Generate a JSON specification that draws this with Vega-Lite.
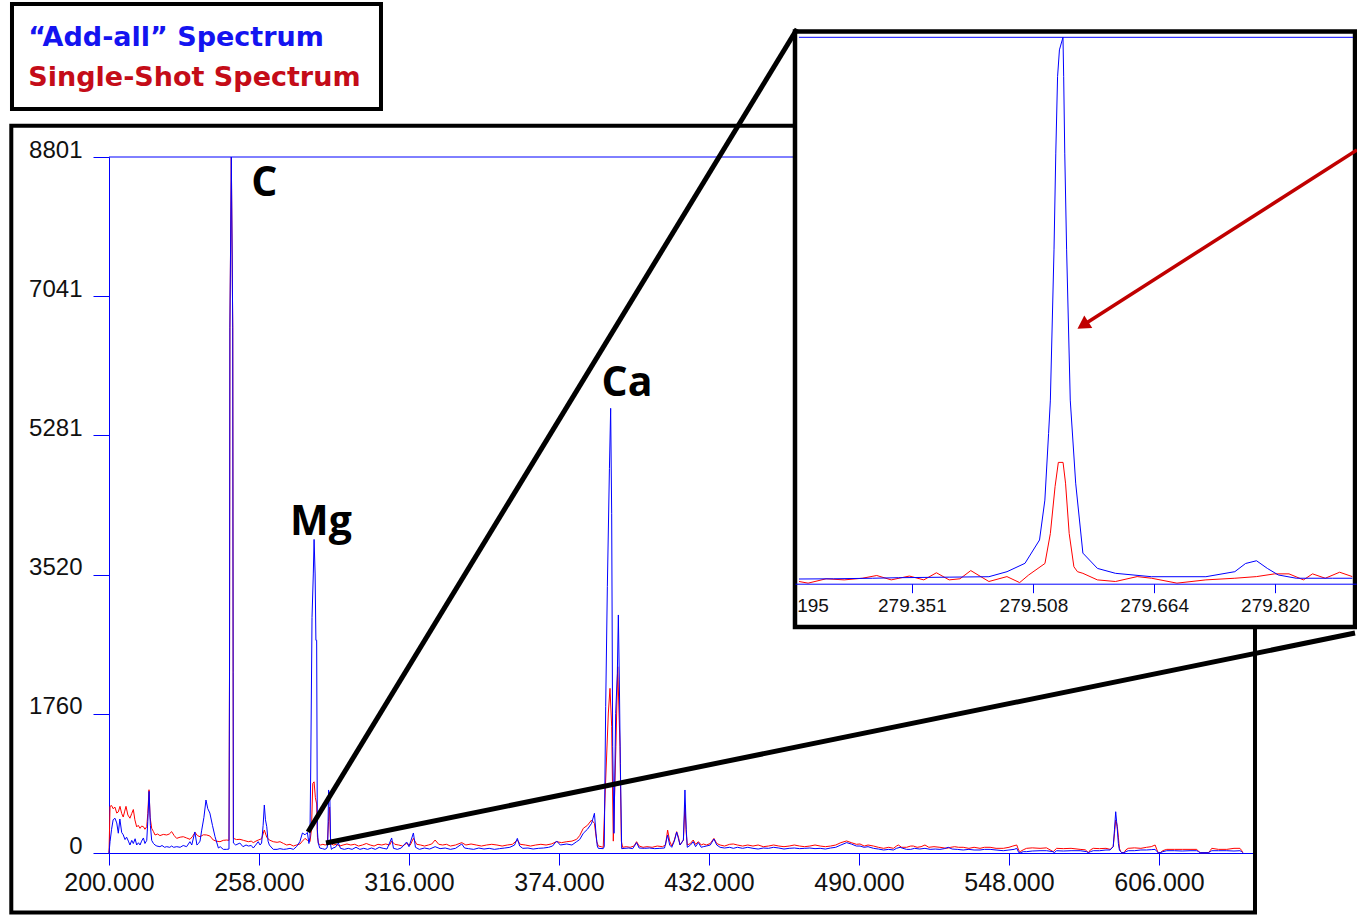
{
"$schema": "https://vega.github.io/schema/vega-lite/v6.json",
"width": 1144, "height": 696,
"autosize": {"type": "none"},
"padding": {"left": 109, "top": 157, "right": 104, "bottom": 63},
"background": "white",
"config": {"view": {"stroke": null}, "axis": {"labelFont": "Liberation Sans", "labelColor": "#111111", "grid": false}},
"datasets": {
"one": [{"k": 1}],
"blue": [{"wl":200.0,"v":0},{"wl":200.4,"v":143},{"wl":201.0,"v":300},{"wl":201.6,"v":420},{"wl":202.3,"v":440},{"wl":203.0,"v":380},{"wl":203.6,"v":250},{"wl":204.2,"v":430},{"wl":204.9,"v":260},{"wl":205.5,"v":230},{"wl":206.2,"v":170},{"wl":206.8,"v":200},{"wl":207.5,"v":150},{"wl":208.1,"v":101},{"wl":208.8,"v":160},{"wl":209.4,"v":120},{"wl":210.1,"v":180},{"wl":210.7,"v":101},{"wl":211.4,"v":130},{"wl":212.0,"v":101},{"wl":212.6,"v":150},{"wl":213.3,"v":190},{"wl":213.9,"v":120},{"wl":214.6,"v":160},{"wl":215.0,"v":400},{"wl":215.5,"v":780},{"wl":216.0,"v":350},{"wl":216.5,"v":160},{"wl":217.2,"v":120},{"wl":217.8,"v":101},{"wl":218.5,"v":88},{"wl":219.7,"v":80},{"wl":220.5,"v":95},{"wl":221.5,"v":72},{"wl":222.3,"v":80},{"wl":223.5,"v":72},{"wl":224.2,"v":88},{"wl":225.0,"v":72},{"wl":226.2,"v":80},{"wl":227.5,"v":72},{"wl":228.7,"v":95},{"wl":230.0,"v":80},{"wl":231.3,"v":143},{"wl":232.0,"v":101},{"wl":233.2,"v":266},{"wl":234.0,"v":101},{"wl":234.6,"v":120},{"wl":235.2,"v":150},{"wl":235.8,"v":280},{"wl":236.7,"v":450},{"wl":237.5,"v":670},{"wl":238.2,"v":560},{"wl":239.0,"v":505},{"wl":240.0,"v":350},{"wl":241.0,"v":206},{"wl":242.3,"v":63},{"wl":243.0,"v":80},{"wl":244.2,"v":46},{"wl":245.5,"v":46},{"wl":246.4,"v":50},{"wl":246.6,"v":2300},{"wl":246.75,"v":6640},{"wl":247.3,"v":8801},{"wl":247.85,"v":6640},{"wl":248.0,"v":2300},{"wl":248.1,"v":126},{"wl":249.0,"v":101},{"wl":250.6,"v":126},{"wl":251.8,"v":80},{"wl":253.0,"v":101},{"wl":253.9,"v":88},{"wl":255.0,"v":95},{"wl":255.8,"v":63},{"wl":256.7,"v":100},{"wl":257.7,"v":143},{"wl":258.4,"v":101},{"wl":259.0,"v":126},{"wl":259.6,"v":350},{"wl":260.06,"v":607},{"wl":260.5,"v":420},{"wl":261.0,"v":333},{"wl":261.5,"v":150},{"wl":262.0,"v":101},{"wl":263.5,"v":46},{"wl":265.0,"v":46},{"wl":266.1,"v":55},{"wl":267.5,"v":46},{"wl":268.7,"v":50},{"wl":270.0,"v":59},{"wl":271.3,"v":46},{"wl":272.5,"v":80},{"wl":273.8,"v":143},{"wl":274.8,"v":253},{"wl":275.8,"v":230},{"wl":276.7,"v":260},{"wl":277.3,"v":120},{"wl":277.7,"v":200},{"wl":278.0,"v":1062},{"wl":278.5,"v":2978},{"wl":279.0,"v":3528},{"wl":279.3,"v":3965},{"wl":279.7,"v":3528},{"wl":280.0,"v":2690},{"wl":280.3,"v":2690},{"wl":280.55,"v":300},{"wl":280.9,"v":126},{"wl":281.5,"v":63},{"wl":282.5,"v":55},{"wl":283.5,"v":46},{"wl":284.3,"v":63},{"wl":284.6,"v":120},{"wl":284.9,"v":797},{"wl":285.4,"v":700},{"wl":285.7,"v":100},{"wl":286.0,"v":46},{"wl":286.6,"v":63},{"wl":287.5,"v":72},{"wl":288.7,"v":126},{"wl":289.5,"v":59},{"wl":291.0,"v":46},{"wl":292.5,"v":59},{"wl":294.0,"v":46},{"wl":295.5,"v":72},{"wl":297.0,"v":46},{"wl":298.5,"v":59},{"wl":300.0,"v":46},{"wl":301.5,"v":63},{"wl":303.0,"v":46},{"wl":304.5,"v":72},{"wl":306.0,"v":59},{"wl":307.5,"v":50},{"wl":309.3,"v":190},{"wl":310.0,"v":59},{"wl":311.5,"v":46},{"wl":313.0,"v":63},{"wl":315.1,"v":139},{"wl":316.0,"v":80},{"wl":317.7,"v":253},{"wl":318.5,"v":72},{"wl":320.0,"v":46},{"wl":322.0,"v":63},{"wl":324.0,"v":50},{"wl":326.1,"v":80},{"wl":328.0,"v":55},{"wl":330.0,"v":63},{"wl":332.0,"v":46},{"wl":334.0,"v":59},{"wl":336.4,"v":114},{"wl":337.5,"v":63},{"wl":339.0,"v":55},{"wl":341.0,"v":46},{"wl":343.0,"v":63},{"wl":345.0,"v":50},{"wl":347.0,"v":59},{"wl":349.0,"v":46},{"wl":351.0,"v":55},{"wl":353.0,"v":63},{"wl":355.0,"v":72},{"wl":356.8,"v":100},{"wl":357.9,"v":185},{"wl":358.8,"v":88},{"wl":360.0,"v":59},{"wl":362.0,"v":63},{"wl":364.0,"v":50},{"wl":366.0,"v":59},{"wl":368.0,"v":63},{"wl":370.0,"v":72},{"wl":371.5,"v":88},{"wl":373.1,"v":152},{"wl":374.5,"v":101},{"wl":377.0,"v":114},{"wl":379.0,"v":101},{"wl":380.8,"v":143},{"wl":382.0,"v":170},{"wl":383.4,"v":249},{"wl":385.0,"v":300},{"wl":386.6,"v":375},{"wl":387.7,"v":502},{"wl":388.3,"v":250},{"wl":388.8,"v":88},{"wl":389.2,"v":59},{"wl":391.1,"v":55},{"wl":391.5,"v":80},{"wl":392.05,"v":1850},{"wl":392.7,"v":3368},{"wl":393.5,"v":4864},{"wl":393.98,"v":5623},{"wl":394.37,"v":4295},{"wl":394.76,"v":1344},{"wl":395.27,"v":249},{"wl":395.92,"v":1766},{"wl":396.56,"v":2272},{"wl":396.95,"v":3010},{"wl":397.33,"v":2188},{"wl":397.72,"v":1134},{"wl":398.24,"v":55},{"wl":399.5,"v":59},{"wl":401.0,"v":63},{"wl":402.5,"v":55},{"wl":404.0,"v":131},{"wl":405.0,"v":63},{"wl":407.0,"v":59},{"wl":409.0,"v":63},{"wl":411.0,"v":55},{"wl":413.0,"v":59},{"wl":414.8,"v":63},{"wl":416.0,"v":227},{"wl":416.8,"v":101},{"wl":417.6,"v":72},{"wl":418.6,"v":150},{"wl":419.5,"v":265},{"wl":420.2,"v":180},{"wl":420.8,"v":101},{"wl":422.1,"v":164},{"wl":422.7,"v":797},{"wl":423.2,"v":300},{"wl":423.6,"v":72},{"wl":424.8,"v":100},{"wl":425.9,"v":143},{"wl":426.8,"v":80},{"wl":427.9,"v":131},{"wl":429.0,"v":72},{"wl":429.8,"v":80},{"wl":431.0,"v":88},{"wl":432.5,"v":101},{"wl":433.9,"v":177},{"wl":435.0,"v":101},{"wl":436.3,"v":72},{"wl":438.0,"v":63},{"wl":440.0,"v":72},{"wl":441.4,"v":59},{"wl":443.0,"v":72},{"wl":445.0,"v":59},{"wl":447.0,"v":72},{"wl":449.0,"v":59},{"wl":451.0,"v":50},{"wl":453.0,"v":63},{"wl":455.0,"v":59},{"wl":457.0,"v":72},{"wl":459.0,"v":63},{"wl":461.0,"v":50},{"wl":463.0,"v":59},{"wl":465.0,"v":63},{"wl":467.0,"v":55},{"wl":469.0,"v":59},{"wl":471.0,"v":63},{"wl":473.0,"v":55},{"wl":475.0,"v":59},{"wl":477.0,"v":50},{"wl":479.0,"v":63},{"wl":481.0,"v":72},{"wl":483.0,"v":101},{"wl":485.2,"v":131},{"wl":487.0,"v":114},{"wl":489.0,"v":88},{"wl":490.4,"v":88},{"wl":492.0,"v":72},{"wl":493.5,"v":80},{"wl":495.6,"v":59},{"wl":497.5,"v":50},{"wl":499.5,"v":38},{"wl":501.5,"v":46},{"wl":503.3,"v":38},{"wl":504.5,"v":59},{"wl":505.9,"v":72},{"wl":507.0,"v":59},{"wl":508.4,"v":46},{"wl":510.0,"v":46},{"wl":511.5,"v":59},{"wl":513.5,"v":50},{"wl":515.5,"v":59},{"wl":517.5,"v":46},{"wl":519.5,"v":50},{"wl":521.3,"v":46},{"wl":523.0,"v":55},{"wl":524.5,"v":72},{"wl":526.0,"v":50},{"wl":528.0,"v":46},{"wl":530.3,"v":38},{"wl":532.5,"v":46},{"wl":534.5,"v":38},{"wl":536.8,"v":38},{"wl":538.5,"v":46},{"wl":540.7,"v":46},{"wl":543.0,"v":38},{"wl":545.8,"v":29},{"wl":548.0,"v":38},{"wl":550.0,"v":46},{"wl":551.0,"v":59},{"wl":551.8,"v":4},{"wl":552.5,"v":4},{"wl":553.5,"v":17},{"wl":554.8,"v":17},{"wl":557.0,"v":25},{"wl":560.0,"v":29},{"wl":562.5,"v":29},{"wl":565.0,"v":17},{"wl":565.5,"v":4},{"wl":566.4,"v":29},{"wl":569.0,"v":25},{"wl":572.0,"v":29},{"wl":575.5,"v":29},{"wl":578.0,"v":17},{"wl":578.7,"v":4},{"wl":579.5,"v":17},{"wl":580.6,"v":29},{"wl":583.0,"v":29},{"wl":585.5,"v":38},{"wl":587.1,"v":38},{"wl":588.3,"v":80},{"wl":588.8,"v":300},{"wl":589.26,"v":522},{"wl":589.6,"v":400},{"wl":589.9,"v":290},{"wl":590.3,"v":120},{"wl":590.7,"v":38},{"wl":591.2,"v":17},{"wl":591.6,"v":4},{"wl":592.5,"v":4},{"wl":593.2,"v":17},{"wl":594.1,"v":29},{"wl":596.5,"v":29},{"wl":599.0,"v":38},{"wl":601.2,"v":38},{"wl":603.0,"v":42},{"wl":604.5,"v":46},{"wl":605.2,"v":17},{"wl":605.7,"v":4},{"wl":606.5,"v":4},{"wl":607.5,"v":17},{"wl":609.0,"v":29},{"wl":612.0,"v":29},{"wl":615.0,"v":25},{"wl":618.0,"v":29},{"wl":620.6,"v":29},{"wl":621.3,"v":17},{"wl":621.9,"v":4},{"wl":625.1,"v":4},{"wl":625.8,"v":17},{"wl":626.4,"v":29},{"wl":629.0,"v":29},{"wl":632.2,"v":29},{"wl":635.0,"v":25},{"wl":637.3,"v":29},{"wl":638.0,"v":17},{"wl":638.4,"v":4}],
"red": [{"wl":200.0,"v":0},{"wl":200.4,"v":590},{"wl":201.0,"v":600},{"wl":201.6,"v":560},{"wl":202.3,"v":580},{"wl":203.0,"v":505},{"wl":203.6,"v":520},{"wl":204.25,"v":590},{"wl":204.9,"v":500},{"wl":205.5,"v":455},{"wl":206.0,"v":520},{"wl":206.57,"v":590},{"wl":207.3,"v":480},{"wl":208.1,"v":440},{"wl":208.8,"v":500},{"wl":209.41,"v":550},{"wl":210.0,"v":420},{"wl":210.7,"v":330},{"wl":211.3,"v":350},{"wl":212.0,"v":312},{"wl":212.6,"v":340},{"wl":213.3,"v":333},{"wl":213.9,"v":300},{"wl":214.6,"v":333},{"wl":215.0,"v":500},{"wl":215.47,"v":800},{"wl":215.9,"v":450},{"wl":216.5,"v":312},{"wl":217.2,"v":270},{"wl":217.8,"v":228},{"wl":218.8,"v":240},{"wl":219.7,"v":220},{"wl":221.0,"v":235},{"wl":222.3,"v":228},{"wl":223.3,"v":240},{"wl":224.23,"v":270},{"wl":225.2,"v":220},{"wl":226.16,"v":185},{"wl":227.5,"v":200},{"wl":228.74,"v":206},{"wl":230.0,"v":190},{"wl":231.32,"v":173},{"wl":232.3,"v":210},{"wl":233.25,"v":260},{"wl":234.2,"v":220},{"wl":235.19,"v":206},{"wl":236.5,"v":230},{"wl":237.76,"v":228},{"wl":239.0,"v":215},{"wl":240.34,"v":164},{"wl":241.5,"v":150},{"wl":242.92,"v":143},{"wl":244.2,"v":160},{"wl":245.5,"v":164},{"wl":246.4,"v":160},{"wl":246.6,"v":2281},{"wl":246.75,"v":6640},{"wl":247.3,"v":8801},{"wl":247.85,"v":6640},{"wl":248.0,"v":2281},{"wl":248.1,"v":185},{"wl":249.3,"v":170},{"wl":250.65,"v":173},{"wl":252.0,"v":160},{"wl":253.87,"v":143},{"wl":255.0,"v":150},{"wl":255.8,"v":131},{"wl":256.8,"v":150},{"wl":257.74,"v":164},{"wl":259.0,"v":180},{"wl":260.06,"v":291},{"wl":261.0,"v":200},{"wl":261.99,"v":164},{"wl":263.54,"v":143},{"wl":265.0,"v":135},{"wl":266.12,"v":143},{"wl":267.5,"v":120},{"wl":268.71,"v":101},{"wl":270.0,"v":110},{"wl":271.28,"v":88},{"wl":272.5,"v":101},{"wl":273.85,"v":114},{"wl":274.8,"v":150},{"wl":275.79,"v":185},{"wl":276.7,"v":160},{"wl":277.3,"v":150},{"wl":277.72,"v":143},{"wl":278.3,"v":300},{"wl":278.8,"v":880},{"wl":279.3,"v":900},{"wl":279.8,"v":700},{"wl":280.3,"v":620},{"wl":280.6,"v":200},{"wl":281.0,"v":120},{"wl":281.8,"v":101},{"wl":282.7,"v":110},{"wl":283.6,"v":101},{"wl":284.4,"v":114},{"wl":284.9,"v":400},{"wl":285.3,"v":580},{"wl":285.6,"v":200},{"wl":286.0,"v":114},{"wl":286.8,"v":101},{"wl":288.0,"v":110},{"wl":289.2,"v":88},{"wl":290.5,"v":101},{"wl":292.0,"v":114},{"wl":293.5,"v":101},{"wl":295.0,"v":110},{"wl":296.5,"v":88},{"wl":298.0,"v":101},{"wl":299.5,"v":120},{"wl":301.0,"v":101},{"wl":302.5,"v":88},{"wl":304.0,"v":110},{"wl":305.5,"v":101},{"wl":307.0,"v":114},{"wl":308.5,"v":101},{"wl":309.3,"v":150},{"wl":310.5,"v":110},{"wl":312.0,"v":101},{"wl":313.5,"v":88},{"wl":315.0,"v":120},{"wl":316.5,"v":101},{"wl":317.7,"v":185},{"wl":319.0,"v":110},{"wl":320.5,"v":101},{"wl":322.0,"v":88},{"wl":323.5,"v":101},{"wl":324.8,"v":114},{"wl":326.1,"v":164},{"wl":327.5,"v":110},{"wl":329.0,"v":101},{"wl":330.5,"v":110},{"wl":332.0,"v":88},{"wl":334.0,"v":101},{"wl":336.4,"v":131},{"wl":338.0,"v":101},{"wl":340.0,"v":114},{"wl":342.0,"v":101},{"wl":344.0,"v":88},{"wl":346.0,"v":101},{"wl":348.0,"v":110},{"wl":350.0,"v":101},{"wl":352.0,"v":88},{"wl":354.0,"v":101},{"wl":356.0,"v":110},{"wl":357.9,"v":164},{"wl":359.0,"v":110},{"wl":361.0,"v":101},{"wl":363.0,"v":88},{"wl":365.0,"v":101},{"wl":367.0,"v":110},{"wl":369.0,"v":101},{"wl":371.0,"v":114},{"wl":373.1,"v":143},{"wl":375.0,"v":131},{"wl":377.0,"v":143},{"wl":379.0,"v":150},{"wl":380.8,"v":173},{"wl":382.0,"v":220},{"wl":383.4,"v":312},{"wl":385.0,"v":350},{"wl":386.6,"v":417},{"wl":387.7,"v":375},{"wl":388.6,"v":143},{"wl":389.2,"v":88},{"wl":390.3,"v":80},{"wl":391.1,"v":72},{"wl":392.05,"v":923},{"wl":393.08,"v":1770},{"wl":393.72,"v":2082},{"wl":394.37,"v":1602},{"wl":395.0,"v":150},{"wl":396.0,"v":1344},{"wl":396.7,"v":2356},{"wl":397.6,"v":1344},{"wl":398.1,"v":150},{"wl":398.6,"v":72},{"wl":400.0,"v":80},{"wl":401.5,"v":72},{"wl":403.0,"v":88},{"wl":404.0,"v":143},{"wl":405.0,"v":88},{"wl":406.5,"v":72},{"wl":408.0,"v":80},{"wl":410.0,"v":72},{"wl":412.0,"v":88},{"wl":414.0,"v":80},{"wl":415.2,"v":101},{"wl":416.0,"v":290},{"wl":416.8,"v":150},{"wl":417.6,"v":88},{"wl":418.6,"v":164},{"wl":419.5,"v":270},{"wl":420.2,"v":200},{"wl":420.8,"v":101},{"wl":422.1,"v":164},{"wl":422.7,"v":607},{"wl":423.2,"v":250},{"wl":423.6,"v":101},{"wl":424.8,"v":120},{"wl":425.9,"v":164},{"wl":426.8,"v":110},{"wl":427.9,"v":143},{"wl":429.0,"v":101},{"wl":429.8,"v":114},{"wl":431.0,"v":101},{"wl":432.5,"v":120},{"wl":433.9,"v":185},{"wl":435.0,"v":120},{"wl":436.3,"v":101},{"wl":438.0,"v":88},{"wl":440.0,"v":110},{"wl":441.4,"v":114},{"wl":443.0,"v":101},{"wl":445.0,"v":88},{"wl":447.0,"v":101},{"wl":449.0,"v":88},{"wl":451.0,"v":101},{"wl":453.0,"v":80},{"wl":455.0,"v":88},{"wl":457.0,"v":101},{"wl":459.0,"v":88},{"wl":461.0,"v":80},{"wl":463.0,"v":88},{"wl":465.0,"v":101},{"wl":467.0,"v":88},{"wl":469.0,"v":80},{"wl":471.0,"v":88},{"wl":473.0,"v":101},{"wl":475.0,"v":88},{"wl":477.0,"v":80},{"wl":479.0,"v":88},{"wl":481.0,"v":101},{"wl":483.0,"v":131},{"wl":485.2,"v":152},{"wl":487.0,"v":131},{"wl":489.0,"v":110},{"wl":490.4,"v":114},{"wl":492.0,"v":88},{"wl":493.5,"v":101},{"wl":495.6,"v":88},{"wl":497.5,"v":72},{"wl":499.5,"v":59},{"wl":501.5,"v":72},{"wl":503.3,"v":59},{"wl":504.5,"v":88},{"wl":505.2,"v":101},{"wl":506.5,"v":72},{"wl":508.4,"v":72},{"wl":510.0,"v":88},{"wl":511.0,"v":88},{"wl":512.5,"v":72},{"wl":514.0,"v":80},{"wl":515.5,"v":101},{"wl":517.0,"v":72},{"wl":519.0,"v":80},{"wl":521.3,"v":72},{"wl":523.9,"v":59},{"wl":525.5,"v":72},{"wl":527.0,"v":80},{"wl":528.5,"v":72},{"wl":530.3,"v":72},{"wl":532.5,"v":59},{"wl":534.5,"v":72},{"wl":536.8,"v":59},{"wl":538.5,"v":72},{"wl":540.7,"v":72},{"wl":543.0,"v":59},{"wl":545.8,"v":59},{"wl":548.0,"v":72},{"wl":549.5,"v":88},{"wl":551.0,"v":101},{"wl":551.8,"v":30},{"wl":552.3,"v":17},{"wl":553.5,"v":40},{"wl":554.8,"v":59},{"wl":557.0,"v":65},{"wl":560.0,"v":59},{"wl":562.5,"v":65},{"wl":565.1,"v":17},{"wl":566.4,"v":59},{"wl":569.0,"v":55},{"wl":572.0,"v":59},{"wl":575.5,"v":46},{"wl":577.5,"v":40},{"wl":578.7,"v":4},{"wl":579.5,"v":40},{"wl":580.6,"v":59},{"wl":583.0,"v":55},{"wl":585.5,"v":59},{"wl":587.1,"v":46},{"wl":588.3,"v":80},{"wl":588.8,"v":250},{"wl":589.26,"v":417},{"wl":589.6,"v":380},{"wl":589.9,"v":333},{"wl":590.3,"v":200},{"wl":590.7,"v":59},{"wl":591.2,"v":17},{"wl":591.6,"v":4},{"wl":592.5,"v":4},{"wl":593.2,"v":40},{"wl":594.1,"v":59},{"wl":596.5,"v":65},{"wl":599.0,"v":59},{"wl":601.2,"v":72},{"wl":603.0,"v":80},{"wl":604.5,"v":101},{"wl":605.2,"v":40},{"wl":605.7,"v":4},{"wl":606.5,"v":4},{"wl":607.5,"v":30},{"wl":609.0,"v":46},{"wl":612.0,"v":46},{"wl":615.0,"v":46},{"wl":618.0,"v":46},{"wl":620.6,"v":46},{"wl":621.3,"v":20},{"wl":621.9,"v":4},{"wl":625.1,"v":4},{"wl":625.8,"v":30},{"wl":626.4,"v":59},{"wl":629.0,"v":46},{"wl":632.2,"v":46},{"wl":635.0,"v":59},{"wl":637.3,"v":59},{"wl":638.0,"v":30},{"wl":638.4,"v":4}],
"iblue": [{"wl":279.2051,"v":8.6},{"wl":279.25,"v":9},{"wl":279.3,"v":10},{"wl":279.3337,"v":11},{"wl":279.4,"v":12},{"wl":279.4505,"v":12.8},{"wl":279.4739,"v":22},{"wl":279.4971,"v":37.3},{"wl":279.5159,"v":80},{"wl":279.5228,"v":153},{"wl":279.5276,"v":275},{"wl":279.5299,"v":336},{"wl":279.5346,"v":611},{"wl":279.5369,"v":788},{"wl":279.5392,"v":928},{"wl":279.5416,"v":977},{"wl":279.5462,"v":1000},{"wl":279.5471,"v":928},{"wl":279.5485,"v":788},{"wl":279.5509,"v":611},{"wl":279.5556,"v":336},{"wl":279.5626,"v":184},{"wl":279.5719,"v":56},{"wl":279.5907,"v":28},{"wl":279.614,"v":19},{"wl":279.6607,"v":12.8},{"wl":279.7308,"v":12.8},{"wl":279.7682,"v":22},{"wl":279.7821,"v":37},{"wl":279.7962,"v":42},{"wl":279.8102,"v":28},{"wl":279.8243,"v":16},{"wl":279.8476,"v":10},{"wl":279.8943,"v":10},{"wl":279.92,"v":10}],
"ired": [{"wl":279.2052,"v":4},{"wl":279.2169,"v":1},{"wl":279.2402,"v":9},{"wl":279.2636,"v":7},{"wl":279.2869,"v":10},{"wl":279.3056,"v":15},{"wl":279.3243,"v":7},{"wl":279.3477,"v":14},{"wl":279.3664,"v":7},{"wl":279.3827,"v":20},{"wl":279.3991,"v":7},{"wl":279.4131,"v":9},{"wl":279.4271,"v":24},{"wl":279.4505,"v":4},{"wl":279.4738,"v":13},{"wl":279.4902,"v":2},{"wl":279.5019,"v":16},{"wl":279.5229,"v":37},{"wl":279.5299,"v":92},{"wl":279.536,"v":178},{"wl":279.5402,"v":222},{"wl":279.5463,"v":222},{"wl":279.5495,"v":184},{"wl":279.5542,"v":92},{"wl":279.5603,"v":31},{"wl":279.5649,"v":22},{"wl":279.5719,"v":19},{"wl":279.5906,"v":7},{"wl":279.614,"v":4},{"wl":279.642,"v":13},{"wl":279.6607,"v":10},{"wl":279.6934,"v":1},{"wl":279.7308,"v":7},{"wl":279.7682,"v":10},{"wl":279.7962,"v":13},{"wl":279.8196,"v":18},{"wl":279.8382,"v":18},{"wl":279.8569,"v":7},{"wl":279.8686,"v":18},{"wl":279.885,"v":10},{"wl":279.9036,"v":21},{"wl":279.92,"v":13}]
},
"resolve": {"scale": {"x": "independent", "y": "independent"}, "axis": {"x": "independent", "y": "independent"}},
"layer": [
{"data": {"name": "one"},
 "mark": {"type": "rect", "fill": "transparent", "stroke": "#000000", "strokeWidth": 4},
 "encoding": {
  "x": {"datum": 162.22, "type": "quantitative", "scale": {"domain": [200, 642.35], "nice": false, "zero": false}, "axis": null},
  "x2": {"datum": 643.12},
  "y": {"datum": -752.4, "type": "quantitative", "scale": {"domain": [0, 8801], "nice": false, "zero": false}, "axis": null},
  "y2": {"datum": 9197}}},
{"data": {"name": "one"},
 "mark": {"type": "rect", "fill": "transparent", "stroke": "#000000", "strokeWidth": 4},
 "encoding": {
  "x": {"datum": 162.49, "type": "quantitative", "scale": {"domain": [200, 642.35], "nice": false, "zero": false}, "axis": null},
  "x2": {"datum": 305.17},
  "y": {"datum": 9407.9, "type": "quantitative", "scale": {"domain": [0, 8801], "nice": false, "zero": false}, "axis": null},
  "y2": {"datum": 10735.7}}},
{"data": {"name": "one"},
 "mark": {"type": "text", "text": "“Add-all” Spectrum", "font": "DejaVu Sans", "fontWeight": "bold", "fontSize": 27, "color": "#1414f0", "align": "left", "baseline": "alphabetic"},
 "encoding": {
  "x": {"datum": 168.8, "type": "quantitative", "scale": {"domain": [200, 642.35], "nice": false, "zero": false}, "axis": null},
  "y": {"datum": 10208, "type": "quantitative", "scale": {"domain": [0, 8801], "nice": false, "zero": false}, "axis": null}}},
{"data": {"name": "one"},
 "mark": {"type": "text", "text": "Single-Shot Spectrum", "font": "DejaVu Sans", "fontWeight": "bold", "fontSize": 27, "color": "#c40c18", "align": "left", "baseline": "alphabetic"},
 "encoding": {
  "x": {"datum": 168.8, "type": "quantitative", "scale": {"domain": [200, 642.35], "nice": false, "zero": false}, "axis": null},
  "y": {"datum": 9699, "type": "quantitative", "scale": {"domain": [0, 8801], "nice": false, "zero": false}, "axis": null}}},
{"data": {"name": "red"},
 "mark": {"type": "line", "color": "#ff0000", "strokeWidth": 1},
 "encoding": {
  "x": {"field": "wl", "type": "quantitative", "scale": {"domain": [200, 642.35], "nice": false, "zero": false}, "axis": null},
  "y": {"field": "v", "type": "quantitative", "scale": {"domain": [0, 8801], "nice": false, "zero": false}, "axis": null}}},
{"data": {"name": "blue"},
 "mark": {"type": "line", "color": "#0000ff", "strokeWidth": 1},
 "encoding": {
  "x": {"field": "wl", "type": "quantitative", "scale": {"domain": [200, 642.35], "nice": false, "zero": false},
   "axis": {"orient": "bottom", "values": [200, 258, 316, 374, 432, 490, 548, 606], "format": ".3f", "labelFontSize": 25, "tickSize": 12, "labelPadding": 5, "tickColor": "#0000ff", "domainColor": "#0000ff", "labelFlush": false, "labelOverlap": false, "title": null}},
  "y": {"field": "v", "type": "quantitative", "scale": {"domain": [0, 8801], "nice": false, "zero": false},
   "axis": {"orient": "left", "values": [0, 1760.2, 3520.4, 5280.6, 7040.8, 8801], "format": ".0f", "labelFontSize": 24, "tickSize": 16, "labelPadding": 11, "labelBaseline": "alphabetic", "tickColor": "#0000ff", "domainColor": "#0000ff", "labelFlush": false, "labelOverlap": false, "title": null}}}},
{"data": {"name": "one"},
 "mark": {"type": "rule", "color": "#0000ff", "strokeWidth": 1},
 "encoding": {
  "x": {"datum": 200, "type": "quantitative", "scale": {"domain": [200, 642.35], "nice": false, "zero": false}, "axis": null},
  "x2": {"datum": 642.35},
  "y": {"datum": 8801, "type": "quantitative", "scale": {"domain": [0, 8801], "nice": false, "zero": false}, "axis": null}}},
{"data": {"name": "one"},
 "mark": {"type": "text", "text": "C", "font": "Open Sans", "fontWeight": "bold", "fontSize": 41, "color": "#000000", "align": "center", "baseline": "alphabetic"},
 "encoding": {
  "x": {"datum": 260.1, "type": "quantitative", "scale": {"domain": [200, 642.35], "nice": false, "zero": false}, "axis": null},
  "y": {"datum": 8308, "type": "quantitative", "scale": {"domain": [0, 8801], "nice": false, "zero": false}, "axis": null}}},
{"data": {"name": "one"},
 "mark": {"type": "text", "text": "Mg", "font": "Open Sans", "fontWeight": "bold", "fontSize": 41, "color": "#000000", "align": "center", "baseline": "alphabetic"},
 "encoding": {
  "x": {"datum": 281.97, "type": "quantitative", "scale": {"domain": [200, 642.35], "nice": false, "zero": false}, "axis": null},
  "y": {"datum": 4021, "type": "quantitative", "scale": {"domain": [0, 8801], "nice": false, "zero": false}, "axis": null}}},
{"data": {"name": "one"},
 "mark": {"type": "text", "text": "Ca", "font": "Open Sans", "fontWeight": "bold", "fontSize": 41, "color": "#000000", "align": "center", "baseline": "alphabetic"},
 "encoding": {
  "x": {"datum": 400.3, "type": "quantitative", "scale": {"domain": [200, 642.35], "nice": false, "zero": false}, "axis": null},
  "y": {"datum": 5779, "type": "quantitative", "scale": {"domain": [0, 8801], "nice": false, "zero": false}, "axis": null}}},
{"data": {"name": "one"},
 "mark": {"type": "rect", "fill": "#ffffff", "stroke": "#000000", "strokeWidth": 4.5},
 "encoding": {
  "x": {"datum": 279.2, "type": "quantitative", "scale": {"domain": [279.2, 279.925], "range": [686, 1247.2], "nice": false, "zero": false}, "axis": null},
  "x2": {"datum": 279.9235},
  "y": {"datum": -79.2, "type": "quantitative", "scale": {"domain": [0, 1000], "range": [426.7, -119.7], "nice": false, "zero": false}, "axis": null},
  "y2": {"datum": 1010.6}}},
{"data": {"name": "one"},
 "mark": {"type": "rule", "color": "#0000ff", "strokeWidth": 1},
 "encoding": {
  "x": {"datum": 279.2051, "type": "quantitative", "scale": {"domain": [279.2, 279.925], "range": [686, 1247.2], "nice": false, "zero": false}, "axis": null},
  "x2": {"datum": 279.921},
  "y": {"datum": 1000, "type": "quantitative", "scale": {"domain": [0, 1000], "range": [426.7, -119.7], "nice": false, "zero": false}, "axis": null}}},
{"data": {"name": "ired"},
 "mark": {"type": "line", "color": "#ff0000", "strokeWidth": 1},
 "encoding": {
  "x": {"field": "wl", "type": "quantitative", "scale": {"domain": [279.2, 279.925], "range": [686, 1247.2], "nice": false, "zero": false}, "axis": null},
  "y": {"field": "v", "type": "quantitative", "scale": {"domain": [0, 1000], "range": [426.7, -119.7], "nice": false, "zero": false}, "axis": null}}},
{"data": {"name": "iblue"},
 "mark": {"type": "line", "color": "#0000ff", "strokeWidth": 1},
 "encoding": {
  "x": {"field": "wl", "type": "quantitative", "scale": {"domain": [279.2, 279.925], "range": [686, 1247.2], "nice": false, "zero": false},
   "axis": {"orient": "bottom", "offset": -269.3, "values": [279.351, 279.508, 279.664, 279.82], "format": ".3f", "labelFontSize": 19, "tickSize": 9, "labelPadding": 4, "tickColor": "#0000ff", "domainColor": "#0000ff", "labelFlush": false, "labelOverlap": false, "title": null, "zindex": 1}},
  "y": {"field": "v", "type": "quantitative", "scale": {"domain": [0, 1000], "range": [426.7, -119.7], "nice": false, "zero": false}, "axis": null}}},
{"data": {"name": "one"},
 "mark": {"type": "text", "text": "195", "font": "Liberation Sans", "fontSize": 19, "color": "#111111", "align": "left", "baseline": "top"},
 "encoding": {
  "x": {"datum": 279.2028, "type": "quantitative", "scale": {"domain": [279.2, 279.925], "range": [686, 1247.2], "nice": false, "zero": false}, "axis": null},
  "y": {"datum": -24.2, "type": "quantitative", "scale": {"domain": [0, 1000], "range": [426.7, -119.7], "nice": false, "zero": false}, "axis": null}}},
{"data": {"name": "one"},
 "mark": {"type": "rule", "color": "#000000", "strokeWidth": 5},
 "encoding": {
  "x": {"datum": 276.95, "type": "quantitative", "scale": {"domain": [200, 642.35], "nice": false, "zero": false}, "axis": null},
  "x2": {"datum": 466.03},
  "y": {"datum": 265.5, "type": "quantitative", "scale": {"domain": [0, 8801], "nice": false, "zero": false}, "axis": null},
  "y2": {"datum": 10419.6}}},
{"data": {"name": "one"},
 "mark": {"type": "rule", "color": "#000000", "strokeWidth": 5},
 "encoding": {
  "x": {"datum": 283.91, "type": "quantitative", "scale": {"domain": [200, 642.35], "nice": false, "zero": false}, "axis": null},
  "x2": {"datum": 681.79},
  "y": {"datum": 126.5, "type": "quantitative", "scale": {"domain": [0, 8801], "nice": false, "zero": false}, "axis": null},
  "y2": {"datum": 2782}}},
{"data": {"name": "one"},
 "mark": {"type": "rule", "color": "#c00000", "strokeWidth": 3.5},
 "encoding": {
  "x": {"datum": 682.55, "type": "quantitative", "scale": {"domain": [200, 642.35], "nice": false, "zero": false}, "axis": null},
  "x2": {"datum": 576.57},
  "y": {"datum": 8889.5, "type": "quantitative", "scale": {"domain": [0, 8801], "nice": false, "zero": false}, "axis": null},
  "y2": {"datum": 6674}}},
{"data": {"name": "one"},
 "mark": {"type": "point", "shape": "triangle-up", "filled": true, "color": "#c00000", "size": 220, "angle": 237.4, "opacity": 1},
 "encoding": {
  "x": {"datum": 576.57, "type": "quantitative", "scale": {"domain": [200, 642.35], "nice": false, "zero": false}, "axis": null},
  "y": {"datum": 6674, "type": "quantitative", "scale": {"domain": [0, 8801], "nice": false, "zero": false}, "axis": null}}}
]
}
